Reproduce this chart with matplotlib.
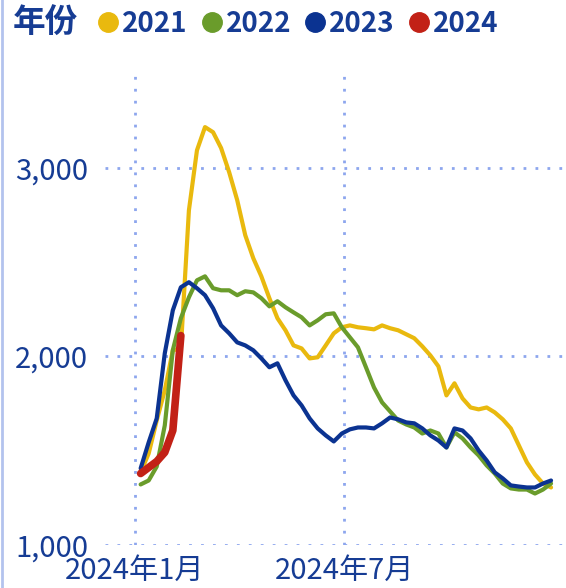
import matplotlib
matplotlib.use('Agg')
import matplotlib.pyplot as plt
from matplotlib.lines import Line2D
import pandas as pd

plt.rcParams['font.family'] = ['Noto Sans CJK SC', 'DejaVu Sans']

# weekly points, plotted on the 2024 calendar
dates = pd.date_range('2024-01-06', periods=52, freq='7D')

v2021 = [1385, 1485, 1660, 1820, 2032, 2042, 2774, 3092, 3215, 3188,
         3104, 2976, 2828, 2642, 2520, 2424, 2308, 2202, 2138, 2058,
         2042, 1989, 1995, 2058, 2122, 2154, 2164, 2154, 2149, 2143,
         2164, 2149, 2138, 2117, 2096, 2053, 2005, 1947, 1793, 1857,
         1777, 1729, 1719, 1729, 1703, 1666, 1618, 1528, 1438, 1374,
         1326, 1305]
v2022 = [1321, 1342, 1416, 1634, 2033, 2202, 2313, 2403, 2424, 2361,
         2350, 2350, 2324, 2345, 2339, 2308, 2265, 2292, 2260, 2233,
         2207, 2164, 2191, 2223, 2228, 2154, 2101, 2048, 1942, 1835,
         1756, 1708, 1660, 1639, 1623, 1591, 1607, 1591, 1517, 1597,
         1565, 1517, 1475, 1422, 1379, 1326, 1300, 1294, 1294, 1273,
         1294, 1326]
v2023 = [1406, 1544, 1671, 2016, 2244, 2366, 2393, 2361, 2324, 2255,
         2164, 2122, 2074, 2058, 2032, 1989, 1942, 1963, 1873, 1793,
         1740, 1671, 1618, 1581, 1549, 1591, 1613, 1623, 1623, 1618,
         1645, 1676, 1666, 1650, 1645, 1618, 1581, 1554, 1517, 1618,
         1607, 1565, 1501, 1448, 1385, 1353, 1316, 1310, 1305, 1305,
         1326, 1342]
v2024 = [1379, 1411, 1443, 1491, 1607, 2110]

years = ['2021', '2022', '2023', '2024']
colors = ['#E9B90E', '#6A9C2B', '#0B3391', '#C22116']
text_color = '#163C94'
grid_color = '#8DA6EE'

fig = plt.figure(figsize=(5.66, 5.88), dpi=100)
ax = fig.add_axes([0.1855, 0.0731, 0.8145, 0.8022])

series = [v2021, v2022, v2023, v2024]
for yr, vals, c in zip(years, series, colors):
    lw = 5.5 if yr == '2024' else 3
    ax.plot(dates[:len(vals)], vals, color=c, lw=lw,
            solid_capstyle='round', solid_joinstyle='round')

ax.set_ylim(1000, 3500)
ax.set_xlim(pd.Timestamp('2023-12-06'), pd.Timestamp('2025-01-10'))

ax.set_yticks([1000, 2000, 3000])
ax.set_yticklabels(['{:,}'.format(v) for v in [1000, 2000, 3000]])
ax.set_xticks([pd.Timestamp('2024-01-01'), pd.Timestamp('2024-07-01')])
ax.set_xticklabels(['2024年1月', '2024年7月'])

ax.tick_params(axis='both', length=0, labelsize=21, labelcolor=text_color)
ax.tick_params(axis='y', pad=12)
ax.tick_params(axis='x', pad=8)

ax.grid(True, color=grid_color, lw=2, linestyle=(0, (1, 3.3)))
ax.set_axisbelow(True)
for s in ax.spines.values():
    s.set_visible(False)

# legend row
fig.text(0.022, 0.960, '年份', fontsize=23.5, weight='bold', color=text_color,
         va='center', ha='left')
handles = [Line2D([], [], ls='', marker='o', markersize=14, color=c) for c in colors]
fig.legend(handles, years, loc='center left', bbox_to_anchor=(0.169, 0.960),
           ncol=4, frameon=False, handletextpad=0.05, columnspacing=0.42,
           handlelength=0.9, borderaxespad=0, borderpad=0,
           prop={'weight': 'bold', 'size': 20}, labelcolor=text_color)

# thin border line on the left edge
fig.add_artist(Line2D([0.004, 0.004], [0, 1], transform=fig.transFigure,
                      color='#B3C3EE', lw=2))

fig.savefig('out.png', dpi=100)
